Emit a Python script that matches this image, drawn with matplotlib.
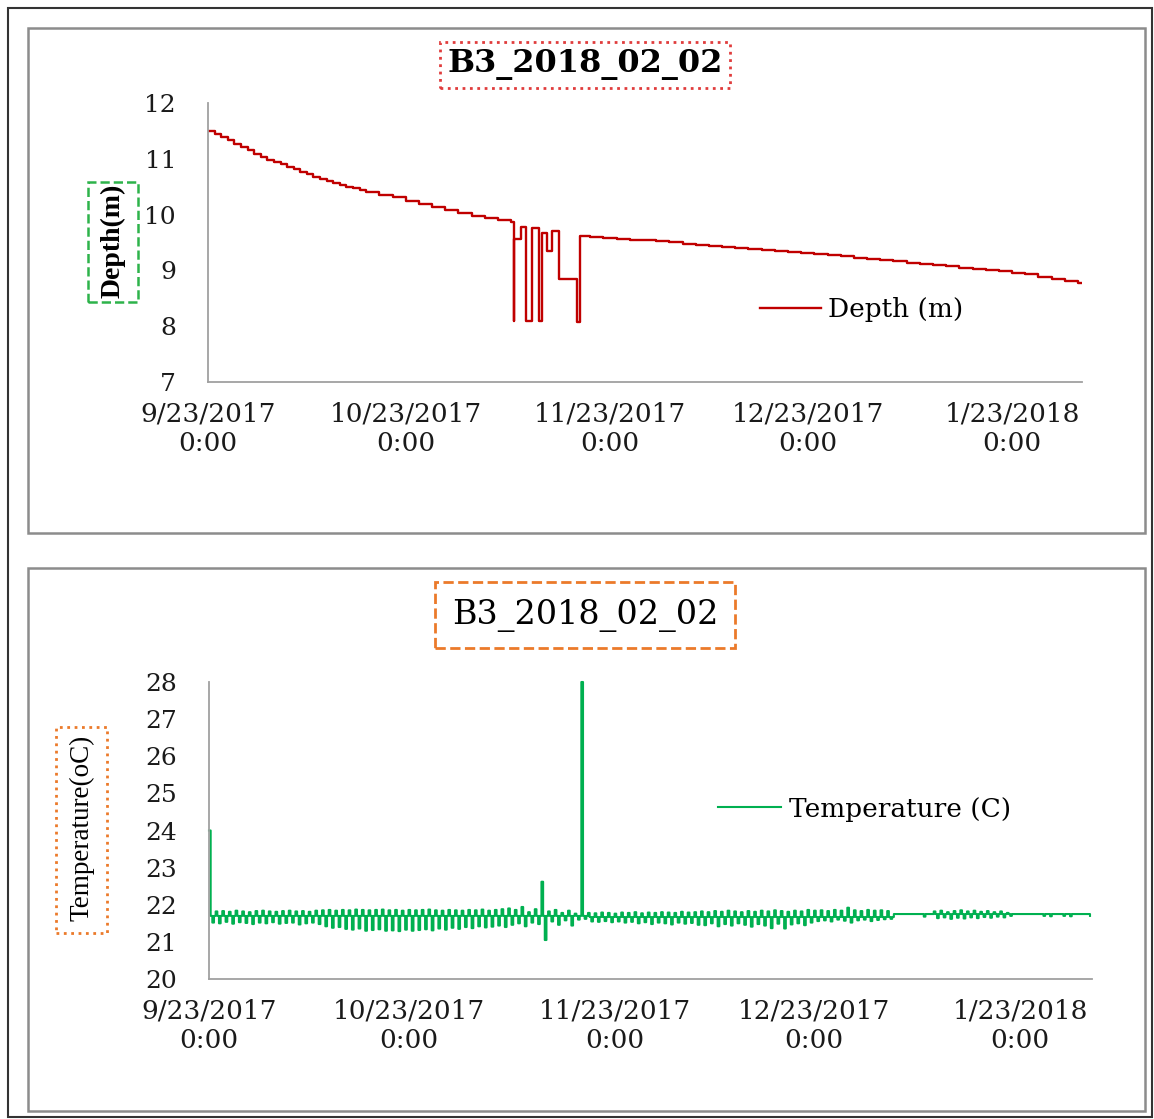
import numpy as np
import pandas as pd
import matplotlib
matplotlib.use("Agg")
import matplotlib.pyplot as plt
import matplotlib.dates as mdates
from matplotlib.patches import Rectangle
from matplotlib.lines import Line2D

# ---------------- data ----------------
start_date = "2017-09-23"
tick_dates = ["2017-09-23", "2017-10-23", "2017-11-23", "2017-12-23", "2018-01-23"]
tick_labels = ["9/23/2017\n0:00", "10/23/2017\n0:00", "11/23/2017\n0:00",
               "12/23/2017\n0:00", "1/23/2018\n0:00"]
title_text = "B3_2018_02_02"

# depth: day offset from 9/23/2017 0:00, value (m)
depth_days = [0, 1, 2, 3, 4, 5, 6, 7, 8, 9, 10, 11, 12, 13, 14, 15, 16, 17, 18, 19, 20,
              21, 22, 23, 24, 26, 28, 30, 32, 34, 36, 38, 40, 42, 44, 46,
              46.36, 46.45, 47.42, 48.18, 49.09, 50.15, 50.61, 51.37, 52.12, 53.19, 55.92,
              56.37, 58, 60, 62, 64, 66, 68, 70, 72, 74, 76, 78, 80, 82, 84, 86, 88, 90,
              92, 94, 96, 98, 100, 102, 104, 106, 108, 110, 112, 114, 116, 118, 120, 122,
              124, 126, 128, 130, 132]
depth_values = [11.50, 11.45, 11.39, 11.33, 11.27, 11.21, 11.15, 11.09, 11.03, 10.98,
                10.94, 10.90, 10.85, 10.81, 10.76, 10.72, 10.68, 10.64, 10.60, 10.56,
                10.53, 10.50, 10.47, 10.44, 10.41, 10.36, 10.31, 10.25, 10.19, 10.14,
                10.08, 10.03, 9.98, 9.94, 9.90, 9.86,
                8.10, 9.57, 9.78, 8.10, 9.76, 8.10, 9.67, 9.34, 9.70, 8.85, 8.08,
                9.62, 9.60, 9.58, 9.57, 9.55, 9.54, 9.52, 9.50, 9.48, 9.46, 9.44, 9.42,
                9.41, 9.39, 9.37, 9.35, 9.33, 9.31, 9.29, 9.27, 9.25, 9.22, 9.20, 9.18,
                9.16, 9.14, 9.12, 9.10, 9.07, 9.05, 9.03, 9.01, 8.99, 8.96, 8.93, 8.89,
                8.85, 8.81, 8.77]
depth_end_day = 132.5

# temperature: daily base level segments and daily high / low readings (deg C)
temp_base_start_days = [0, 57, 103]
temp_base_levels = [21.70, 21.67, 21.75]
temp_high = [
    24.00, 21.82, 21.83, 21.81, 21.84, 21.82, 21.80, 21.83, 21.84, 21.82, 21.81, 21.83,
    21.84, 21.82, 21.83, 21.81, 21.84,
    21.85, 21.86, 21.84, 21.86, 21.85, 21.87, 21.86, 21.85, 21.86, 21.87, 21.85, 21.86,
    21.84, 21.86, 21.85, 21.86, 21.87, 21.85, 21.84, 21.86, 21.85, 21.84, 21.86, 21.85,
    21.87, 21.84, 21.86, 21.88,
    21.90, 21.86, 21.94, 21.80, 21.88, 22.62, 21.82, 21.86, 21.78, 21.84, 21.76, 28.00,
    21.78, 21.77, 21.79, 21.78, 21.76, 21.79, 21.78, 21.80, 21.77, 21.79, 21.78, 21.80,
    21.79, 21.78, 21.81, 21.79, 21.80,
    21.82, 21.80, 21.83, 21.81, 21.84, 21.82, 21.80, 21.83, 21.81, 21.84, 21.82, 21.85,
    21.83, 21.81, 21.84, 21.82, 21.86,
    21.84, 21.85, 21.83, 21.86, 21.84, 21.92, 21.85, 21.83, 21.86, 21.84, 21.85, 21.83,
    21.75, 21.75, 21.75, 21.75, 21.75, 21.75,
    21.82, 21.84, 21.80, 21.83, 21.85, 21.82, 21.84, 21.81, 21.83, 21.80, 21.82, 21.78,
    21.75, 21.75, 21.75, 21.75,
    21.75, 21.75, 21.75, 21.75, 21.75, 21.75, 21.75, 21.75]
temp_low = [
    21.52, 21.50, 21.54, 21.49, 21.53, 21.51, 21.48, 21.52, 21.50, 21.53, 21.49, 21.51,
    21.52, 21.47, 21.50, 21.52, 21.48,
    21.42, 21.38, 21.40, 21.35, 21.33, 21.36, 21.30, 21.32, 21.34, 21.30, 21.31, 21.29,
    21.33, 21.30, 21.32, 21.34, 21.31, 21.36, 21.33, 21.38, 21.35, 21.40, 21.37, 21.42,
    21.39, 21.41, 21.44, 21.40,
    21.46, 21.50, 21.42, 21.52, 21.48, 21.05, 21.55, 21.46, 21.58, 21.44, 21.60, 21.62,
    21.55, 21.54, 21.56, 21.53, 21.55, 21.52, 21.54, 21.50, 21.53, 21.48, 21.52, 21.50,
    21.47, 21.52, 21.49, 21.51, 21.46,
    21.45, 21.50, 21.42, 21.48, 21.44, 21.50, 21.46, 21.41, 21.48, 21.44, 21.37, 21.49,
    21.36, 21.47, 21.50, 21.45, 21.52,
    21.56, 21.58, 21.55, 21.60, 21.57, 21.52, 21.58, 21.60, 21.56, 21.59, 21.61, 21.62,
    21.75, 21.75, 21.75, 21.75, 21.68, 21.75,
    21.64, 21.66, 21.62, 21.65, 21.63, 21.66, 21.64, 21.67, 21.65, 21.68, 21.66, 21.70,
    21.75, 21.75, 21.75, 21.75,
    21.70, 21.69, 21.75, 21.70, 21.69, 21.75, 21.75, 21.70]
temp_end_day = 132.5

# ---------------- build time series ----------------
t0 = pd.Timestamp(start_date)
def to_num(days):
    return mdates.date2num((t0 + pd.to_timedelta(np.asarray(days, dtype=float), unit="D")).to_pydatetime())

d_days = list(depth_days) + [depth_end_day]
d_vals = list(depth_values) + [depth_values[-1]]

t_days, t_vals = [], []
for d, (hi, lo) in enumerate(zip(temp_high, temp_low)):
    base = temp_base_levels[0]
    for sd, lv in zip(temp_base_start_days, temp_base_levels):
        if d >= sd:
            base = lv
    for frac, v in zip([0.0, 0.25, 0.5, 0.75], [hi, base, lo, base]):
        if d + frac <= temp_end_day:
            t_days.append(d + frac)
            t_vals.append(v)
t_days.append(temp_end_day)
t_vals.append(t_vals[-1])

# ---------------- figure ----------------
W, H = 1154, 1119
fig = plt.figure(figsize=(W / 100, H / 100), dpi=100)
fig.patch.set_facecolor("white")

def fx(px):
    return px / W

def fy(py):
    return 1 - py / H

def box(x0, y0, x1, y1, **kw):
    fig.add_artist(Rectangle((fx(x0), fy(y1)), fx(x1) - fx(x0), fy(y0) - fy(y1),
                             transform=fig.transFigure, fill=False, **kw))

# outer border and panel frames
box(8, 8, 1152, 1117, ec="#333333", lw=1.5)
box(28, 28, 1145, 533, ec="#8C8C8C", lw=1.8)
box(28, 568, 1145, 1111, ec="#8C8C8C", lw=1.8)

tick_nums = to_num([(pd.Timestamp(s) - t0).days for s in tick_dates])

def style_axes(ax, xmax_day, yticks):
    for s in ["top", "right"]:
        ax.spines[s].set_visible(False)
    for s in ["left", "bottom"]:
        ax.spines[s].set_color("#A0A0A0")
        ax.spines[s].set_linewidth(1.3)
    ax.set_xlim(to_num([0])[0], to_num([xmax_day])[0])
    ax.set_xticks(tick_nums)
    ax.set_xticklabels(tick_labels, fontfamily="DejaVu Serif", fontsize=19, linespacing=1.25)
    ax.set_yticks(yticks)
    ax.set_yticklabels([str(v) for v in yticks], fontfamily="DejaVu Serif", fontsize=18)
    ax.tick_params(axis="x", length=0, pad=14, colors="#1a1a1a")
    ax.tick_params(axis="y", length=0, pad=23, colors="#1a1a1a")

# ---- depth panel ----
ax1 = fig.add_axes([fx(208), fy(382), (1082 - 208) / W, (382 - 103) / H])
ax1.plot(to_num(d_days), d_vals, color="#C00000", lw=1.7, drawstyle="steps-post")
ax1.set_ylim(7, 12)
style_axes(ax1, 132.6, [7, 8, 9, 10, 11, 12])

fig.text(fx(585), fy(65), title_text, ha="center", va="center", fontfamily="DejaVu Serif",
         fontweight="bold", fontsize=23,
         bbox=dict(boxstyle="square,pad=0.22", fc="none", ec="#E03C3C", ls=":", lw=2))
fig.text(fx(113), fy(241), "Depth(m)", ha="center", va="center", rotation=90,
         fontfamily="Liberation Serif", fontweight="bold", fontsize=20)
box(88, 182, 138, 302, ec="#2DB34A", ls="--", lw=1.8)
h1 = Line2D([], [], color="#C00000", lw=1.7)
ax1.legend([h1], ["Depth (m)"], loc="center left", bbox_to_anchor=(fx(760), fy(310)),
           bbox_transform=fig.transFigure, frameon=False, borderpad=0, borderaxespad=0,
           handlelength=2.3, handletextpad=0.28,
           prop={"family": "DejaVu Serif", "size": 19})

# ---- temperature panel ----
ax2 = fig.add_axes([fx(209), fy(979), (1092 - 209) / W, (979 - 682) / H])
ax2.plot(to_num(t_days), t_vals, color="#00B050", lw=1.5, drawstyle="steps-post", clip_on=False)
ax2.set_ylim(20, 28)
style_axes(ax2, 132.8, [20, 21, 22, 23, 24, 25, 26, 27, 28])

fig.text(fx(585), fy(615), title_text, ha="center", va="center", fontfamily="DejaVu Serif",
         fontsize=24,
         bbox=dict(boxstyle="square,pad=0.5", fc="none", ec="#EB7A2A", ls="--", lw=2))
fig.text(fx(82), fy(828), "Temperature(oC)", ha="center", va="center", rotation=90,
         fontfamily="Liberation Serif", fontsize=19.5)
box(56, 727, 107, 933, ec="#EB7A2A", ls=":", lw=2)
h2 = Line2D([], [], color="#00B050", lw=1.5)
ax2.legend([h2], ["Temperature (C)"], loc="center left", bbox_to_anchor=(fx(718), fy(809)),
           bbox_transform=fig.transFigure, frameon=False, borderpad=0, borderaxespad=0,
           handlelength=2.4, handletextpad=0.28,
           prop={"family": "DejaVu Serif", "size": 19})

fig.savefig("out.png", dpi=100)
